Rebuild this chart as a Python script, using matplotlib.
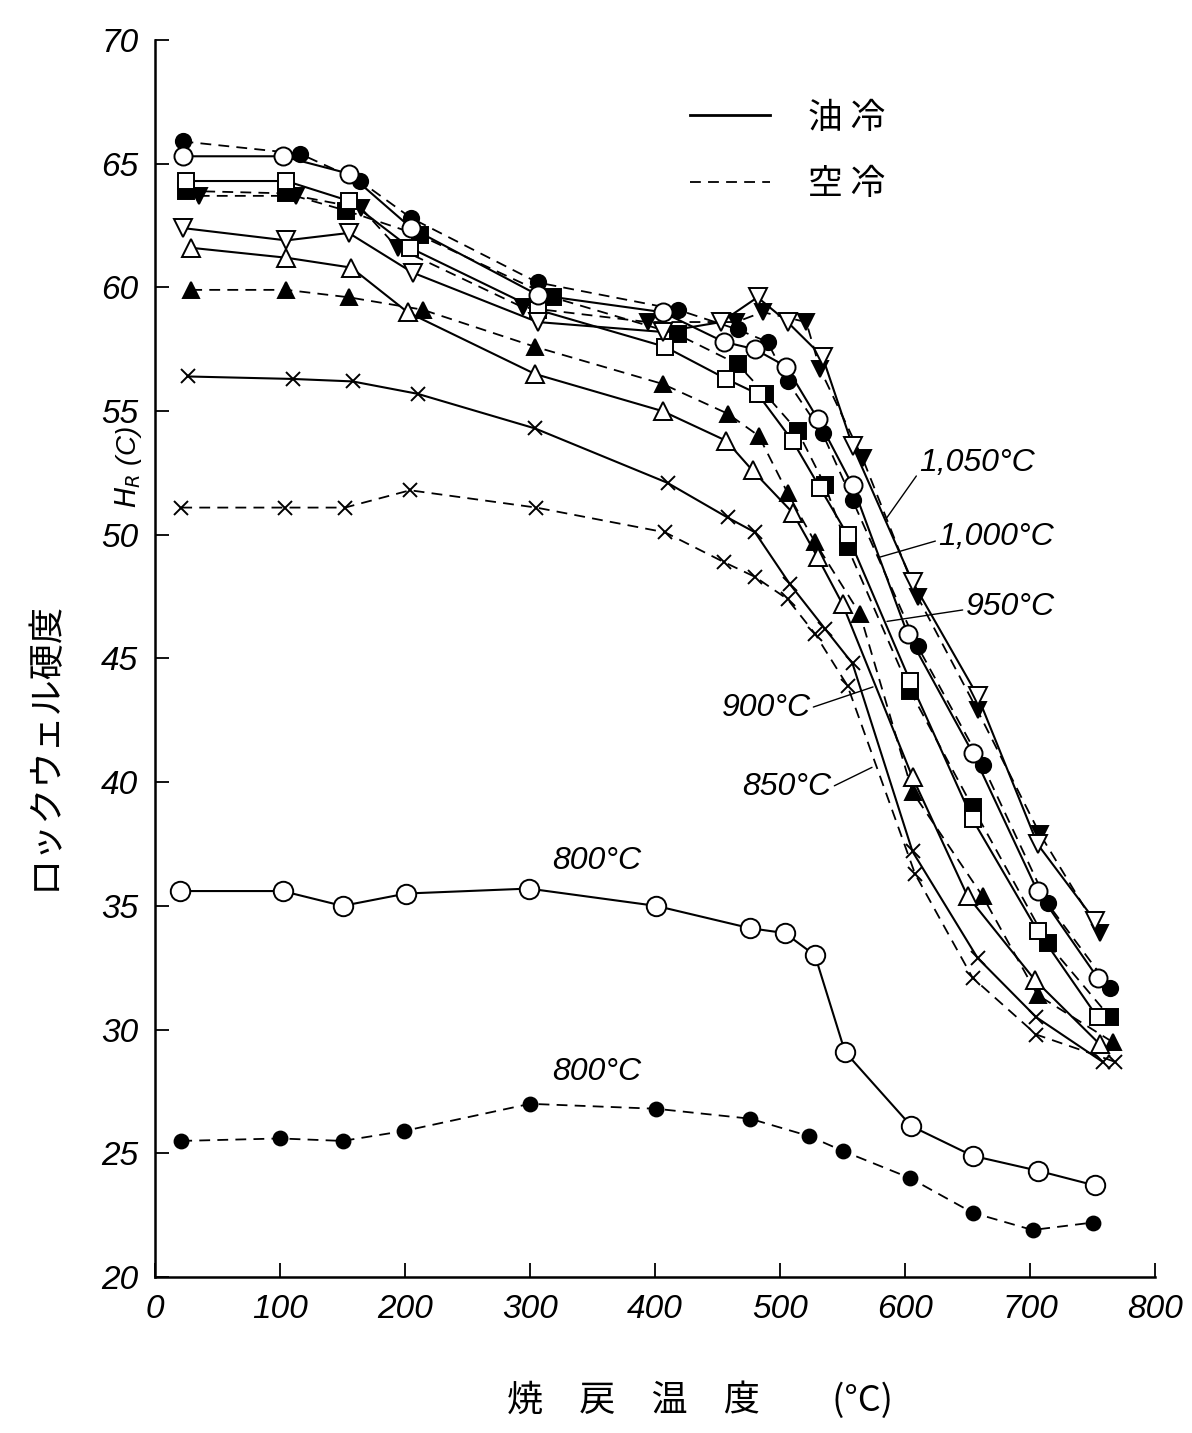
import matplotlib
matplotlib.use("Agg")
import matplotlib.pyplot as plt
from matplotlib.lines import Line2D

plt.rcParams['font.family'] = ['Noto Sans CJK JP', 'DejaVu Sans']
NUM_FONT = ['Liberation Sans Narrow', 'Liberation Sans', 'DejaVu Sans']

# 焼戻温度 (°C) と ロックウェル硬度 HR(C)  -- 油冷: 白抜き/実線, 空冷: 黒塗り/破線
t1050_oil = [22, 105, 155, 206, 306, 406, 453, 482, 506, 534, 558, 606, 658, 706, 752]
hr1050_oil = [62.4, 61.9, 62.2, 60.6, 58.6, 58.2, 58.6, 59.6, 58.6, 57.2, 53.6, 48.1, 43.5, 37.5, 34.4]
t1050_air = [35, 113, 165, 194, 294, 394, 465, 486, 521, 532, 566, 610, 658, 708, 756]
hr1050_air = [63.7, 63.7, 63.2, 61.6, 59.2, 58.6, 58.6, 59.0, 58.6, 56.7, 53.1, 47.5, 42.9, 37.9, 33.9]

t1000_oil = [22, 102, 155, 205, 306, 406, 455, 480, 505, 530, 558, 602, 654, 706, 754]
hr1000_oil = [65.3, 65.3, 64.6, 62.4, 59.7, 59.0, 57.8, 57.5, 56.8, 54.7, 52.0, 46.0, 41.2, 35.6, 32.1]
t1000_air = [22, 116, 164, 205, 306, 418, 466, 490, 506, 534, 558, 610, 662, 714, 764]
hr1000_air = [65.9, 65.4, 64.3, 62.8, 60.2, 59.1, 58.3, 57.8, 56.2, 54.1, 51.4, 45.5, 40.7, 35.1, 31.7]

t950_oil = [25, 105, 155, 204, 306, 408, 457, 482, 510, 532, 554, 604, 654, 706, 754]
hr950_oil = [64.3, 64.3, 63.5, 61.6, 59.1, 57.6, 56.3, 55.7, 53.8, 51.9, 50.0, 44.1, 38.5, 34.0, 30.5]
t950_air = [25, 105, 153, 212, 318, 418, 466, 488, 514, 536, 554, 604, 654, 714, 764]
hr950_air = [63.9, 63.8, 63.1, 62.1, 59.6, 58.1, 56.9, 55.7, 54.2, 52.0, 49.5, 43.7, 39.0, 33.5, 30.5]

t900_oil = [29, 105, 157, 202, 304, 406, 457, 478, 510, 530, 550, 606, 650, 704, 756]
hr900_oil = [61.6, 61.2, 60.8, 59.0, 56.5, 55.0, 53.8, 52.6, 50.9, 49.1, 47.2, 40.2, 35.4, 32.0, 29.4]
t900_air = [29, 105, 155, 214, 304, 406, 458, 483, 506, 528, 564, 606, 662, 706, 766]
hr900_air = [59.9, 59.9, 59.6, 59.1, 57.6, 56.1, 54.9, 54.0, 51.7, 49.7, 46.8, 39.6, 35.4, 31.4, 29.5]

t850_oil = [26, 110, 158, 210, 304, 410, 458, 480, 508, 536, 558, 606, 658, 705, 758]
hr850_oil = [56.4, 56.3, 56.2, 55.7, 54.3, 52.1, 50.7, 50.1, 48.0, 46.2, 44.8, 37.2, 32.9, 30.5, 28.7]
t850_air = [21, 104, 152, 204, 305, 408, 455, 480, 506, 528, 554, 608, 654, 705, 768]
hr850_air = [51.1, 51.1, 51.1, 51.8, 51.1, 50.1, 48.9, 48.3, 47.4, 46.0, 43.9, 36.3, 32.1, 29.8, 28.7]

t800_oil = [20, 102, 150, 201, 299, 401, 476, 504, 528, 552, 605, 654, 706, 752]
hr800_oil = [35.6, 35.6, 35.0, 35.5, 35.7, 35.0, 34.1, 33.9, 33.0, 29.1, 26.1, 24.9, 24.3, 23.7]
t800_air = [21, 100, 150, 199, 300, 401, 476, 523, 550, 604, 654, 702, 750]
hr800_air = [25.5, 25.6, 25.5, 25.9, 27.0, 26.8, 26.4, 25.7, 25.1, 24.0, 22.6, 21.9, 22.2]

x_ticks = [0, 100, 200, 300, 400, 500, 600, 700, 800]
y_ticks = [20, 25, 30, 35, 40, 45, 50, 55, 60, 65, 70]

DASH = (0, (6, 4))

# (温度, 硬度, マーカー, 黒塗り, 線種, 大きさ)
series = [
    (t850_air, hr850_air, 'x', False, DASH, 10),
    (t850_oil, hr850_oil, 'x', False, '-', 10),
    (t900_air, hr900_air, '^', True, DASH, 12),
    (t900_oil, hr900_oil, '^', False, '-', 13),
    (t950_air, hr950_air, 's', True, DASH, 11),
    (t950_oil, hr950_oil, 's', False, '-', 11),
    (t1000_air, hr1000_air, 'o', True, DASH, 11),
    (t1000_oil, hr1000_oil, 'o', False, '-', 13),
    (t1050_air, hr1050_air, 'v', True, DASH, 12),
    (t1050_oil, hr1050_oil, 'v', False, '-', 13),
    (t800_air, hr800_air, 'o', True, DASH, 10),
    (t800_oil, hr800_oil, 'o', False, '-', 14),
]

fig = plt.figure(figsize=(11.92, 14.33), dpi=100)
ax = fig.add_axes([155 / 1192, 1 - 1277 / 1433, 1000 / 1192, 1237 / 1433])

for t, hr, mk, filled, ls, ms in series:
    ax.plot(t, hr, color='k', linestyle=ls, lw=1.5 if ls == '-' else 1.3,
            marker=mk, ms=ms, mfc='k' if filled else 'white', mec='k', mew=1.4,
            zorder=3 if filled else 4)

ax.set_xlim(0, 800)
ax.set_ylim(20, 70)
ax.set_xticks(x_ticks)
ax.set_yticks(y_ticks)
ax.spines['top'].set_visible(False)
ax.spines['right'].set_visible(False)
ax.spines['left'].set_linewidth(1.8)
ax.spines['bottom'].set_linewidth(1.8)
ax.tick_params(axis='both', direction='in', length=10, width=1.3, pad=12)
for lab in ax.get_xticklabels() + ax.get_yticklabels():
    lab.set_family(NUM_FONT)
    lab.set_fontstyle('italic')
    lab.set_fontsize(24)

# 温度ラベル
num_txt = dict(family=NUM_FONT, style='italic', fontsize=23, ha='center', va='center')
lead = dict(arrowstyle='-', color='k', lw=1.0, shrinkA=0, shrinkB=0)
ax.annotate('1,050°C', xy=(585.6, 50.7), xytext=(657.6, 52.9), arrowprops=dict(lead, relpos=(0.0, 0.2)), **num_txt)
ax.annotate('1,000°C', xy=(580, 49.1), xytext=(672.8, 49.9), arrowprops=dict(lead, relpos=(0.0, 0.4)), **num_txt)
ax.annotate('950°C', xy=(585.6, 46.5), xytext=(684, 47.1), arrowprops=dict(lead, relpos=(0.0, 0.4)), **num_txt)
ax.annotate('900°C', xy=(574.4, 43.85), xytext=(488.8, 43.0), arrowprops=dict(lead, relpos=(1.0, 0.5)), **num_txt)
ax.annotate('850°C', xy=(573.6, 40.6), xytext=(505.6, 39.8), arrowprops=dict(lead, relpos=(1.0, 0.5)), **num_txt)
ax.text(353.6, 36.8, '800°C', **num_txt)
ax.text(353.6, 28.3, '800°C', **num_txt)

# 凡例
handles = [Line2D([], [], color='k', lw=2.0, linestyle='-'),
           Line2D([], [], color='k', lw=1.3, linestyle=DASH)]
ax.legend(handles, ['油 冷', '空 冷'], loc='upper left', bbox_to_anchor=(0.535, 0.951),
          frameon=False, fontsize=25, handlelength=2.3, handletextpad=1.1,
          labelspacing=0.9, borderpad=0, borderaxespad=0)

# 軸ラベル
ax.text(-0.11, 0.43, 'ロックウェル硬度', transform=ax.transAxes, rotation=90,
        ha='center', va='center', fontsize=26)
ax.text(-0.027, 0.655, r'$H_R$ (C)', transform=ax.transAxes, rotation=90,
        ha='center', va='center', fontsize=20, family=NUM_FONT, style='italic')
ax.text(0.545, -0.0995, '焼　戻　温　度　　(°C)', transform=ax.transAxes,
        ha='center', va='center', fontsize=26)

fig.savefig('out.png', dpi=100, facecolor='white')
